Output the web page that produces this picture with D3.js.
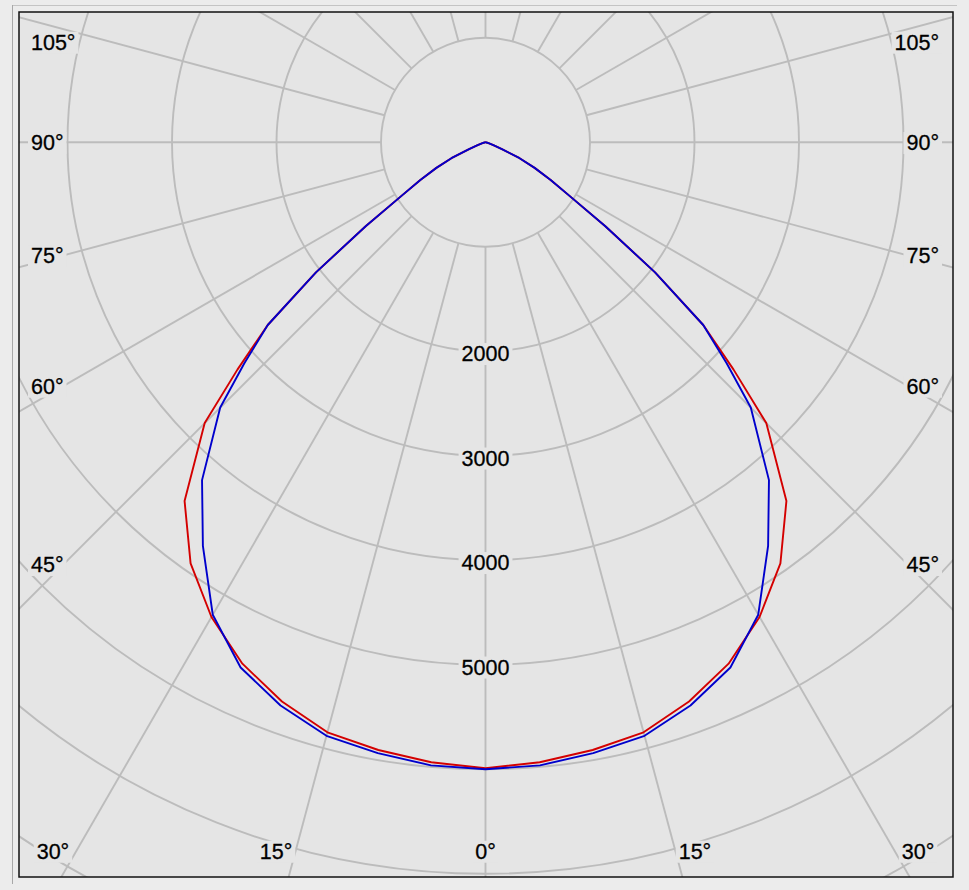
<!DOCTYPE html>
<html>
<head>
<meta charset="utf-8">
<script src="https://cdn.jsdelivr.net/npm/d3@7"></script>
<style>
  body { margin: 0; background: #ececec; }
  svg { display: block; }
  text { font-family: "Liberation Sans", Arial, sans-serif; font-size: 21.5px; fill: #000; stroke: #000; stroke-width: 0.3px; }
</style>
</head>
<body>
<svg id="chart" width="969" height="890"></svg>
<script>
// gamma angles (deg from nadir) and intensities in cd, mirrored to both halves
var angles = [0, 5, 10, 15, 20, 25, 30, 35, 40, 45, 47.5, 50, 52.5, 55, 57.5, 60, 62.5, 65, 67.5, 70, 75, 80, 85, 90];
var redValues = [5990, 5955, 5905, 5845, 5695, 5505, 5245, 4920, 4480, 3800, 3220, 2720, 2045, 1400, 950, 720, 530, 360, 170, 80, 30, 10, 5, 0];
var blueValues = [6000, 5985, 5935, 5880, 5735, 5545, 5220, 4715, 4220, 3590, 3130, 2720, 2045, 1400, 950, 720, 530, 360, 170, 80, 30, 10, 5, 0];

var rings = [1000, 2000, 3000, 4000, 5000, 6000, 7000, 8000, 9000];
var ringLabels = [2000, 3000, 4000, 5000];
var rayAngles = d3.range(-165, 181, 15);
var angleTicks = [0, 15, 30, 45, 60, 75, 90, 105];

var svg = d3.select("#chart");
var plot = {x0: 19, y0: 12, x1: 953, y1: 877};
var cx = 485.5, cy = 142.3;
var bg = "#e5e5e5";

var rad = d3.scaleLinear().domain([0, 1000]).range([0, 104.5]);
// signed gamma angle -> radial angle (0 deg pointing down)
var ang = d3.scaleLinear().domain([-180, 180]).range([2 * Math.PI, 0]);

// outer panel edges
svg.append("line").attr("x1", 12).attr("y1", 5.5).attr("x2", 957).attr("y2", 5.5)
  .attr("stroke", "#c4c4c4").attr("stroke-width", 1);
svg.append("line").attr("x1", 12.5).attr("y1", 5).attr("x2", 12.5).attr("y2", 884)
  .attr("stroke", "#a8a8a8").attr("stroke-width", 1);

svg.append("defs").append("clipPath").attr("id", "clip")
  .append("rect").attr("x", plot.x0).attr("y", plot.y0)
  .attr("width", plot.x1 - plot.x0).attr("height", plot.y1 - plot.y0);

svg.append("rect").attr("x", plot.x0).attr("y", plot.y0)
  .attr("width", plot.x1 - plot.x0).attr("height", plot.y1 - plot.y0)
  .attr("fill", bg);

var g = svg.append("g").attr("clip-path", "url(#clip)");
var c = g.append("g").attr("transform", "translate(" + cx + "," + cy + ")");

// grid circles
c.selectAll("circle.ring").data(rings).enter().append("circle")
  .attr("r", function(d) { return rad(d); })
  .attr("fill", "none").attr("stroke", "#bcbcbc").attr("stroke-width", 1.9);

// rays from the 1000 ring outwards
c.selectAll("line.ray").data(rayAngles).enter().append("line")
  .attr("x1", function(d) { return rad(1000) * Math.sin(ang(d)); })
  .attr("y1", function(d) { return -rad(1000) * Math.cos(ang(d)); })
  .attr("x2", function(d) { return rad(9500) * Math.sin(ang(d)); })
  .attr("y2", function(d) { return -rad(9500) * Math.cos(ang(d)); })
  .attr("stroke", "#bcbcbc").attr("stroke-width", 1.9);

function label(parent, txt, x, y, anchor) {
  var grp = parent.append("g");
  var t = grp.append("text").attr("x", x).attr("y", y).attr("dy", "0.36em")
    .attr("text-anchor", anchor).text(txt);
  var b = t.node().getBBox();
  grp.insert("rect", "text").attr("x", b.x - 3).attr("y", b.y + 1)
    .attr("width", b.width + 6).attr("height", b.height - 2).attr("fill", bg);
}

// intensity labels along the nadir ray
ringLabels.forEach(function(v) {
  label(g, String(v), cx, cy + rad(v) + 2, "middle");
});

// angle labels
angleTicks.forEach(function(a) {
  var sides = a === 0 ? [0] : [-1, 1];
  sides.forEach(function(s) {
    var t = a * Math.PI / 180, x, y, anchor;
    if (a < 37.5) {
      y = 851;
      x = cx + s * 721 * Math.tan(t);
      anchor = s < 0 ? "end" : (s > 0 ? "start" : "middle");
    } else {
      x = s < 0 ? 31 : 939;
      anchor = s < 0 ? "start" : "end";
      y = a === 90 ? cy : Math.max(42, cy + 422 / Math.tan(t));
    }
    label(g, a + "\u00b0", x, y, anchor);
  });
});

// intensity curves
var radial = d3.lineRadial()
  .angle(function(d) { return ang(d.a); })
  .radius(function(d) { return rad(d.v); });

function mirrored(vals) {
  var left = angles.map(function(a, i) { return {a: -a, v: vals[i]}; }).reverse();
  var right = angles.map(function(a, i) { return {a: a, v: vals[i]}; }).slice(1);
  return left.concat(right);
}

c.append("path").datum(mirrored(redValues)).attr("d", radial)
  .attr("fill", "none").attr("stroke", "#d40000").attr("stroke-width", 1.9)
  .attr("stroke-linejoin", "round");
c.append("path").datum(mirrored(blueValues)).attr("d", radial)
  .attr("fill", "none").attr("stroke", "#0000cc").attr("stroke-width", 1.9)
  .attr("stroke-linejoin", "round");

// plot frame
svg.append("rect").attr("x", plot.x0).attr("y", plot.y0)
  .attr("width", plot.x1 - plot.x0).attr("height", plot.y1 - plot.y0)
  .attr("fill", "none").attr("stroke", "#111").attr("stroke-width", 1.5);
</script>
</body>
</html>
